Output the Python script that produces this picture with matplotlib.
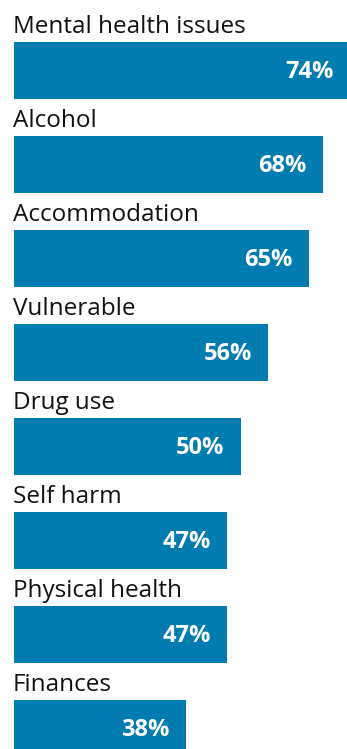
import matplotlib
matplotlib.use("Agg")
import matplotlib.pyplot as plt

# Share of cases where each need was recorded
categories = ["Mental health issues", "Alcohol", "Accommodation", "Vulnerable",
              "Drug use", "Self harm", "Physical health", "Finances"]
values = [74, 68, 65, 56, 50, 47, 47, 38]

bar_colour = "#007CB0"
plt.rcParams["font.family"] = ["Open Sans", "DejaVu Sans"]

fig = plt.figure(figsize=(3.47, 7.49), dpi=100)
ax = fig.add_axes([0, 0, 1, 1])

px = 4.55   # pixels per percentage point
row = 94.0  # pixels per row
ypos = list(range(len(categories)))

ax.barh(ypos, values, height=57 / row, left=0, color=bar_colour)

for i, (name, v) in enumerate(zip(categories, values)):
    ax.text(-0.1, i - 0.303 - 9 / row, name, ha="left", va="baseline",
            fontsize=17.5, color="#111111")
    ax.text(v - 16.5 / px, i + 8 / row, f"{v}%", ha="right", va="baseline",
            fontsize=17, fontweight="bold", color="white")

ax.set_xlim(-13.5 / px, (347 - 13.5) / px)
ax.set_ylim((749 - 70.5) / row, -70.5 / row)
ax.axis("off")

fig.savefig("out.png", dpi=100)
